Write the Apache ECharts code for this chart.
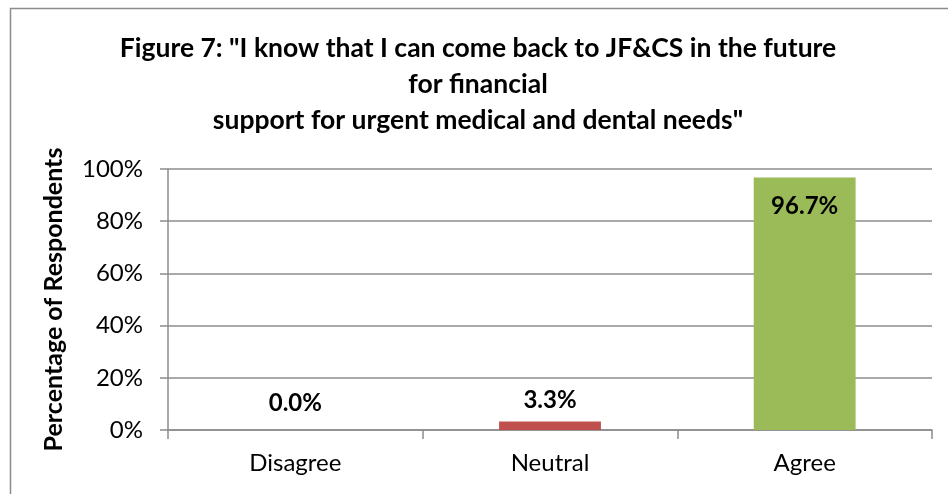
<!DOCTYPE html>
<html>
<head>
<meta charset="utf-8">
<script src="https://cdn.jsdelivr.net/npm/echarts@6/dist/echarts.min.js"></script>
<style>
  html, body { margin: 0; padding: 0; background: #fff; }
  #chart { width: 948px; height: 494px; }
</style>
</head>
<body>
<div id="chart"></div>
<script>
// Survey responses for Figure 7
const categories = ['Disagree', 'Neutral', 'Agree'];
const percentValues = [0.0, 3.3, 96.7];
const barColors = ['#4F81BD', '#C0504D', '#9BBB59'];
const yTicks = [0, 20, 40, 60, 80, 100];

const titleLines = [
  'Figure 7: "I know that I can come back to JF&CS in the future',
  'for financial',
  'support for urgent medical and dental needs"'
];
const yAxisTitle = 'Percentage of Respondents';

const FONT = 'Lato, "Open Sans", sans-serif';
const GRID_GRAY = '#8C8C8C';

const chart = echarts.init(document.getElementById('chart'), null, { renderer: 'canvas' });

const barData = percentValues.map((v, i) => {
  const item = { value: v, itemStyle: { color: barColors[i] } };
  if (v > 50) {
    item.label = { position: 'insideTop', distance: 17 };
  } else if (v === 0) {
    item.label = { distance: 15 };
  }
  return item;
});

chart.setOption({
  animation: false,
  backgroundColor: '#ffffff',
  graphic: [{
    type: 'rect',
    shape: { x: 10.5, y: 8.5, width: 1200, height: 1200 },
    style: { fill: 'none', stroke: '#8C8C8C', lineWidth: 1.5 },
    silent: true,
    z: 100
  }],
  title: {
    text: titleLines.join('\n'),
    left: 473,
    textAlign: 'center',
    top: 25,
    textStyle: {
      fontFamily: FONT,
      fontSize: 26.5,
      fontWeight: 'bold',
      color: '#000',
      lineHeight: 36
    }
  },
  grid: { left: 168, right: 16, top: 169, bottom: 64, containLabel: false },
  xAxis: {
    type: 'category',
    data: categories,
    axisLine: { show: true, lineStyle: { color: GRID_GRAY, width: 1.5 } },
    axisTick: { show: true, length: 9, alignWithLabel: false, lineStyle: { color: GRID_GRAY, width: 1.5 } },
    axisLabel: { fontFamily: FONT, fontSize: 24, color: '#000', margin: 21 }
  },
  yAxis: {
    type: 'value',
    min: yTicks[0],
    max: yTicks[yTicks.length - 1],
    interval: yTicks[1] - yTicks[0],
    name: yAxisTitle,
    nameLocation: 'middle',
    nameGap: 102,
    nameTextStyle: { fontFamily: FONT, fontSize: 25, fontWeight: 'bold', color: '#000' },
    axisLine: { show: true, lineStyle: { color: GRID_GRAY, width: 1.5 } },
    axisTick: { show: true, length: 8, lineStyle: { color: GRID_GRAY, width: 1.5 } },
    splitLine: { show: true, lineStyle: { color: GRID_GRAY, width: 1.5 } },
    axisLabel: {
      fontFamily: FONT, fontSize: 24, color: '#000', margin: 25,
      formatter: v => v + '%'
    }
  },
  series: [{
    type: 'bar',
    data: barData,
    barWidth: '40%',
    label: {
      show: true,
      position: 'top',
      distance: 9,
      fontFamily: FONT,
      fontSize: 24,
      fontWeight: 'bold',
      color: '#000',
      formatter: p => p.value.toFixed(1) + '%'
    }
  }]
});
</script>
</body>
</html>
